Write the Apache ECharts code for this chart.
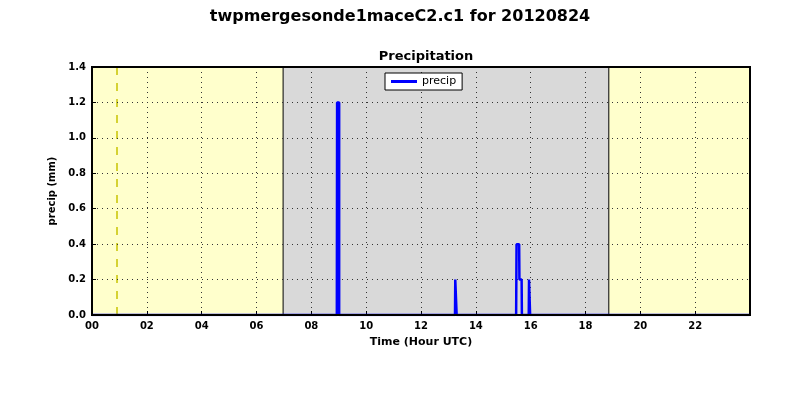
<!DOCTYPE html>
<html>
<head>
<meta charset="utf-8">
<script src="https://cdn.jsdelivr.net/npm/echarts@6/dist/echarts.min.js"></script>
<style>
  html, body { margin: 0; padding: 0; background: #fff; }
  #main { width: 800px; height: 400px; }
</style>
</head>
<body>
<div id="main"></div>
<script>
// time in hours UTC, precip in mm
const times = [0, 8.93, 8.95, 9.0, 9.03, 13.24, 13.26, 13.29, 13.31, 15.47, 15.50, 15.58, 15.60, 15.67, 15.69, 15.93, 15.95, 15.97, 15.99, 23.98];
const precip = [0, 0, 1.2, 1.2, 0, 0, 0.2, 0.2, 0, 0, 0.4, 0.4, 0.2, 0.2, 0, 0, 0.2, 0.2, 0, 0];
const xTicks = ["00", "02", "04", "06", "08", "10", "12", "14", "16", "18", "20", "22"];
const nightBands = [[0, 6.97], [18.85, 24]];
const dayBand = [6.97, 18.85];
const markTime = 0.91;

const myChart = echarts.init(document.getElementById("main"));
const font = "DejaVu Sans";

const lineData = [];
for (let i = 0; i < times.length; i++) {
  lineData.push([times[i], precip[i]]);
}

const areas = nightBands.map(b => [
  { xAxis: b[0], itemStyle: { color: "#ffffcc" } },
  { xAxis: b[1] }
]);
areas.push([
  { xAxis: dayBand[0], itemStyle: { color: "#d9d9d9", borderColor: "#000", borderWidth: 1 } },
  { xAxis: dayBand[1] }
]);

const option = {
  animation: false,
  title: [
    {
      text: "twpmergesonde1maceC2.c1 for 20120824",
      left: "center",
      top: 4,
      textStyle: { fontFamily: font, fontSize: 16, fontWeight: "bold", color: "#000" }
    },
    {
      text: "Precipitation",
      left: 421,
      textAlign: "center",
      top: 45,
      textStyle: { fontFamily: font, fontSize: 13, fontWeight: "bold", color: "#000" }
    }
  ],
  legend: {
    left: 385,
    top: 73,
    z: 10,
    orient: "vertical",
    backgroundColor: "#fff",
    borderColor: "#000",
    borderWidth: 1,
    borderRadius: 0,
    padding: [3, 6, 3, 6],
    itemWidth: 26,
    itemHeight: 3,
    icon: "rect",
    textStyle: { fontFamily: font, fontSize: 11, color: "#000" },
    data: ["precip"]
  },
  grid: { left: 92, right: 50, top: 67, bottom: 85, show: true, borderColor: "#000", borderWidth: 2, backgroundColor: "transparent", z: 5 },
  xAxis: {
    type: "value",
    z: 2,
    min: 0,
    max: 24,
    interval: 2,
    name: "Time (Hour UTC)",
    nameLocation: "middle",
    nameGap: 22,
    nameTextStyle: { fontFamily: font, fontSize: 11, fontWeight: "bold", color: "#000" },
    axisLine: { show: false },
    axisTick: { show: true, inside: true, length: 4, lineStyle: { color: "#000" } },
    axisLabel: {
      fontFamily: font, fontSize: 10, fontWeight: "bold", color: "#000", margin: 6,
      formatter: v => (v >= 24 ? "" : xTicks[v / 2])
    },
    splitLine: { show: true, lineStyle: { color: "#333", type: [1, 4], width: 1 } }
  },
  yAxis: {
    type: "value",
    z: 2,
    min: 0,
    max: 1.4,
    interval: 0.2,
    name: "precip (mm)",
    nameLocation: "middle",
    nameGap: 29,
    nameTextStyle: { fontFamily: font, fontSize: 10, fontWeight: "bold", color: "#000" },
    axisLine: { show: false },
    axisTick: { show: true, inside: true, length: 4, lineStyle: { color: "#000" } },
    axisLabel: {
      fontFamily: font, fontSize: 10, fontWeight: "bold", color: "#000", margin: 6,
      formatter: v => v.toFixed(1)
    },
    splitLine: { show: true, lineStyle: { color: "#333", type: [1, 4], width: 1 } }
  },
  series: [
    {
      name: "band",
      type: "line",
      data: [],
      silent: true,
      markArea: { silent: true, z: 0, data: areas },
      markLine: {
        silent: true,
        z: 1,
        symbol: "none",
        label: { show: false },
        lineStyle: { color: "#c8c400", type: [8, 8], width: 1.5 },
        data: [{ xAxis: markTime }]
      },
      z: 0
    },
    {
      name: "precip",
      type: "line",
      showSymbol: false,
      symbol: "none",
      step: "middle",
      color: "#0000ff",
      lineStyle: { color: "#0000ff", width: 2.5 },
      data: lineData,
      z: 3
    }
  ]
};
myChart.setOption(option);
</script>
</body>
</html>
